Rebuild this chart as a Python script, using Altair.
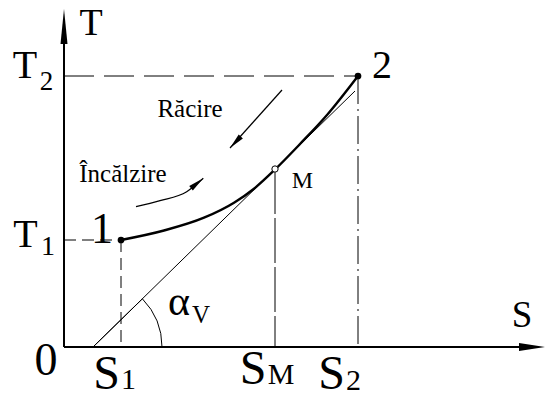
import altair as alt
import pandas as pd

# T-S diagram in drawing units (origin O at the axes' corner)
# Heating / cooling path from state 1 through M to state 2
curve_s = [57, 100, 140, 170, 190, 211, 236, 263, 294]
curve_t = [107, 116.5, 129.3, 144.3, 158.3, 177.5, 203, 232, 271]

# Characteristic states
state_names = ["1", "M", "2"]
state_s = [57, 211, 294]
state_t = [107, 178, 271]

# Tangent through M, starting on the S axis
tangent_s = [29, 291]
tangent_t = [0, 256]

# Axis extents
s_axis_end = 481
t_axis_end = 338

# Direction arrows: cooling (straight) and heating (curved)
cooling_s = [218, 166]
cooling_t = [257, 199]
heating_s = [72, 96, 122.7, 139.3]
heating_t = [140.3, 146.3, 155.3, 168.7]

# Free-standing process labels
process_labels = ["Răcire", "Încălzire"]
process_s = [126, 59]
process_t = [230, 165]

FONT = "Liberation Serif"
xs = alt.Scale(domain=[-64, 481], nice=False, zero=False)
ys = alt.Scale(domain=[-47, 347], nice=False, zero=False)


def frame(s, t):
    return pd.DataFrame({"s": s, "t": t, "i": list(range(len(s)))})


def enc():
    return dict(
        x=alt.X("s:Q", scale=xs, axis=None),
        y=alt.Y("t:Q", scale=ys, axis=None),
    )


def line(s, t, width=1.0, dash=None):
    kw = dict(color="black", strokeWidth=width, strokeCap="butt")
    if dash is not None:
        kw["strokeDash"] = dash
    return alt.Chart(frame(s, t)).mark_line(**kw).encode(order="i:O", **enc())


def head(s, t, path, size, angle=0):
    kw = dict(shape=path, size=size, filled=True, color="black", opacity=1, strokeWidth=0)
    if angle:
        kw["angle"] = angle
    return alt.Chart(frame([s], [t])).mark_point(**kw).encode(**enc())


def label(text, s, t, size, dx=0, dy=0):
    df = pd.DataFrame({"s": [s], "t": [t], "txt": [text]})
    return alt.Chart(df).mark_text(
        font=FONT, fontSize=size, color="black", align="center",
        baseline="alphabetic", dx=dx, dy=dy,
    ).encode(text="txt:N", **enc())


s1, sm, s2 = state_s
t1, tm, t2 = state_t

layers = [
    # projection lines
    line([0, s2], [t2, t2], dash=[30, 10]),
    line([0, s1], [t1, t1], dash=[12, 6]),
    line([s1, s1], [t1, 0], dash=[12, 6]),
    line([sm, sm], [tm, 0], dash=[45, 4]),
    line([s2, s2], [t2, 0], dash=[28, 5, 2, 5]),
    # tangent and angle arc
    line(tangent_s, tangent_t, width=1.0),
    alt.Chart(frame([tangent_s[0]], [tangent_t[0]])).mark_arc(
        radius=69, theta=0.798, theta2=1.5708,
        fillOpacity=0, stroke="black", strokeWidth=1,
    ).encode(**enc()),
    # process curve
    alt.Chart(frame(curve_s, curve_t)).mark_line(
        color="black", strokeWidth=2.4, interpolate="monotone"
    ).encode(order="i:O", **enc()),
    # axes
    line([0, 0], [0, t_axis_end - 20], width=2),
    line([0, s_axis_end - 15], [0, 0], width=2),
    head(0, t_axis_end, "M0,0L0.2,2L-0.2,2Z", 1225),
    head(s_axis_end, 0, "M0,0L-2,-0.3L-2,0.3Z", 676),
    # cooling arrow
    line(cooling_s, cooling_t, width=1.2),
    head(cooling_s[-1], cooling_t[-1], "M0,0L0.18,-1L-0.18,-1Z", 1000, 43),
    # heating arrow
    alt.Chart(frame(heating_s, heating_t)).mark_line(
        color="black", strokeWidth=1.2, interpolate="monotone"
    ).encode(order="i:O", **enc()),
    head(heating_s[-1], heating_t[-1], "M0,0L0.18,-1L-0.18,-1Z", 1000, 231),
    # states
    alt.Chart(frame([s1, s2], [t1, t2])).mark_point(
        shape="circle", size=45, filled=True, color="black", opacity=1
    ).encode(**enc()),
    alt.Chart(frame([sm], [tm])).mark_point(
        shape="circle", size=40, filled=True, fill="white", stroke="black",
        strokeWidth=1, opacity=1
    ).encode(**enc()),
    # axis names and values
    label("T", 0, t_axis_end, 38, dx=27, dy=26),
    label("S", s_axis_end, 0, 37, dx=-23, dy=-20),
    label("0", 0, 0, 46, dx=-18, dy=28),
    label("T", 0, t2, 40, dx=-39, dy=2),
    label("2", 0, t2, 27, dx=-17.5, dy=14),
    label("T", 0, t1, 40, dx=-38.5, dy=7),
    label("1", 0, t1, 28, dx=-16, dy=15),
    label("S", s1, 0, 48, dx=-14.5, dy=42),
    label("1", s1, 0, 30, dx=7.5, dy=42),
    label("S", sm, 0, 48, dx=-22, dy=37),
    label("M", sm, 0, 30, dx=6, dy=37),
    label("S", s2, 0, 48, dx=-26.5, dy=42),
    label("2", s2, 0, 30, dx=-4.5, dy=43),
    # state names
    label(state_names[0], s1, t1, 44, dx=-19, dy=3),
    label(state_names[1], sm, tm, 24, dx=27.5, dy=19),
    label(state_names[2], s2, t2, 40, dx=24, dy=2),
    # angle
    label("α", tangent_s[0], 0, 42, dx=86, dy=-32),
    label("V", tangent_s[0], 0, 25, dx=108, dy=-24),
    # process names
    label(process_labels[0], process_s[0], process_t[0], 25),
    label(process_labels[1], process_s[1], process_t[1], 25),
]

chart = alt.layer(*layers).properties(
    width=545, height=394, padding=0,
    autosize=alt.AutoSizeParams(type="none"),
    background="white",
).configure_view(strokeWidth=0)

chart.save("out.html", embed_options={"renderer": "svg", "actions": False})
